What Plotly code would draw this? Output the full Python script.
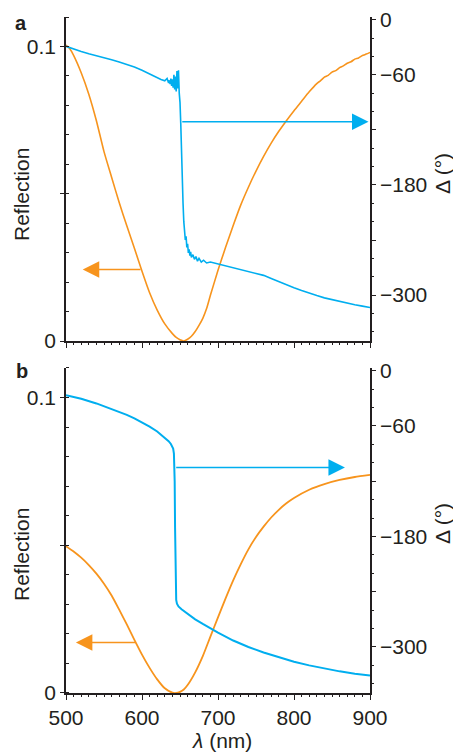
import plotly.graph_objects as go

# ---------------- data ----------------
# Panel a (measured)
wl_a_R = [500, 505, 510, 520, 530, 540, 550, 560, 570, 580, 590, 600, 610, 620, 630, 640, 645,
          650, 655, 660, 665, 670, 675, 680, 685, 690, 700, 710, 720, 730, 740, 750, 760, 770, 780, 790,
          800, 810, 820, 830, 835, 840, 845, 850, 855, 860, 865, 870, 875, 880, 885, 890, 895, 900]
R_a = [0.1005, 0.0992, 0.0970, 0.0911, 0.0838, 0.0748, 0.0643, 0.0556, 0.0470, 0.0391, 0.0315,
       0.0237, 0.0164, 0.0105, 0.0058, 0.0025, 0.0012, 0.0004, 0.0, 0.0006, 0.0016, 0.0032,
       0.0053, 0.0077, 0.0110, 0.0155, 0.0240, 0.0318, 0.0392, 0.0462, 0.0522, 0.0577, 0.0627,
       0.0672, 0.0712, 0.0748, 0.0782, 0.0814, 0.0846, 0.0874, 0.0884, 0.0896, 0.0902, 0.0913,
       0.0918, 0.0928, 0.0934, 0.0943, 0.0948, 0.0957, 0.0961, 0.0969, 0.0974, 0.098]

wl_a_D = [500, 510, 520, 530, 540, 550, 560, 570, 580, 590, 600, 610, 620, 625, 630, 633,
          635, 636, 637, 638, 639, 640, 641, 642, 643, 644, 645, 646, 647, 648, 649, 650, 651,
          652, 653, 654, 655, 656, 657, 658, 659, 660, 661, 662, 663, 664, 665, 667, 669,
          671, 673, 675, 678, 681, 685, 690, 700, 710, 720, 730, 740, 750, 760, 770, 780,
          790, 800, 810, 820, 830, 840, 850, 860, 870, 880, 890, 900]
D_a = [-29, -32, -34.5, -37, -39, -41, -43.5, -46, -48.5, -51.5, -55, -59, -63.5, -65, -66.5, -64,
       -69, -66, -70, -64, -72, -65, -74, -60, -76, -62, -78, -56, -75, -55, -80, -90, -113,
       -150, -178, -200, -220, -233, -240, -236, -248, -244, -254, -250, -257, -253, -259, -256, -261,
       -258, -263, -260, -264, -262, -265, -264, -266, -268, -270, -272, -274, -276, -278.5, -282, -285.5,
       -289, -292, -295, -298, -300.5, -303, -305, -307, -309, -310.5, -312, -313.5]

# Panel b (simulated)
wl_b_R = [500, 510, 520, 530, 540, 550, 560, 570, 580, 590, 600, 610, 620, 630, 640, 645,
          650, 655, 660, 670, 680, 690, 700, 710, 720, 730, 740, 750, 760, 770, 780, 790, 800,
          820, 840, 860, 880, 900]
R_b = [0.0497, 0.0479, 0.0458, 0.0433, 0.0404, 0.0370, 0.0330, 0.0282, 0.0232, 0.0180, 0.0130,
       0.0085, 0.0046, 0.0016, 0.0001, 0.0, 0.0004, 0.0012, 0.0027, 0.0070, 0.0125, 0.0191,
       0.0256, 0.0320, 0.0381, 0.0436, 0.0486, 0.0528, 0.0563, 0.0594, 0.0620, 0.0642, 0.0660,
       0.0688, 0.0707, 0.0721, 0.0731, 0.0738]

wl_b_D = [500, 520, 540, 560, 580, 590, 600, 610, 620, 630, 635, 638, 640, 641, 642, 642.5,
          643, 643.5, 644, 644.5, 645, 646, 648, 652, 660, 670, 680, 690, 700, 720, 740, 760,
          780, 800, 820, 840, 860, 880, 900]
D_b = [-26.5, -30.5, -35.5, -41.5, -48, -51.8, -56, -60.7, -66, -72.5, -76.5, -79.5, -82, -84.5, -90, -100,
       -120, -170, -215, -240, -249, -253, -256, -259, -264, -270, -275, -280, -284.5, -293, -300, -306,
       -311, -316, -320, -323.5, -326.5, -329, -331]

# arrows: [tail_x, tip_x, y]
arrow_a_D = [651, 898, -111]
arrow_a_R = [600, 522, 0.0243]
arrow_b_D = [643, 867, -105]
arrow_b_R = [593, 513, 0.0171]

x_ticks = [500, 600, 700, 800, 900]
R_ticks = [0, 0.05, 0.1]
R_ticktext = ["0", "", "0.1"]
D_ticks = [0, -60, -120, -180, -240, -300]
D_ticktext = ["0", "\u221260", "", "\u2212180", "", "\u2212300"]

# ---------------- style ----------------
BLUE = "#00aeef"
ORANGE = "#f7941d"
INK = "#231f20"
FONT = "Liberation Sans, Arial, sans-serif"

fig = go.Figure()
fig.add_trace(go.Scatter(x=wl_a_R, y=R_a, mode="lines", line=dict(color=ORANGE, width=1.6, shape="spline", smoothing=0.6),
                         xaxis="x", yaxis="y", showlegend=False))
fig.add_trace(go.Scatter(x=wl_a_D, y=D_a, mode="lines", line=dict(color=BLUE, width=1.6),
                         xaxis="x", yaxis="y2", showlegend=False))
fig.add_trace(go.Scatter(x=wl_b_R, y=R_b, mode="lines", line=dict(color=ORANGE, width=1.8, shape="spline", smoothing=0.6),
                         xaxis="x2", yaxis="y3", showlegend=False))
fig.add_trace(go.Scatter(x=wl_b_D, y=D_b, mode="lines", line=dict(color=BLUE, width=2),
                         xaxis="x2", yaxis="y4", showlegend=False))

tickfont = dict(family=FONT, size=21, color=INK)

def xax(show_labels, anchor):
    return dict(domain=[0, 1], range=[500, 900], anchor=anchor, tickvals=x_ticks,
                showticklabels=show_labels, ticks="outside", ticklen=5, tickwidth=1.3,
                tickcolor=INK, showline=True, linecolor=INK, linewidth=1.5,
                showgrid=False, zeroline=False, tickfont=tickfont,
                minor=dict(tickmode="linear", tick0=500, dtick=10, ticks="outside",
                           ticklen=2.5, tickwidth=1, tickcolor=INK))

def ylax(domain, anchor):
    return dict(domain=domain, range=[0, 0.11], anchor=anchor, tickvals=R_ticks,
                ticktext=R_ticktext, ticks="outside", ticklen=4, tickwidth=1.3, tickcolor=INK,
                showline=True, linecolor=INK, linewidth=1.5, showgrid=False, zeroline=False,
                tickfont=tickfont,
                minor=dict(tickmode="linear", tick0=0, dtick=0.01, ticks="inside",
                           ticklen=3, tickwidth=1, tickcolor=INK))

def yrax(overlay, anchor):
    return dict(overlaying=overlay, side="right", range=[-350, 3], anchor=anchor,
                tickvals=D_ticks, ticktext=D_ticktext, ticks="outside", ticklen=4,
                tickwidth=1.3, tickcolor=INK, showline=True, linecolor=INK, linewidth=1.5,
                showgrid=False, zeroline=False, tickfont=tickfont,
                minor=dict(tickmode="linear", tick0=0, dtick=20, ticks="outside",
                           ticklen=2.5, tickwidth=1, tickcolor=INK))

fig.update_layout(
    width=453, height=752,
    margin=dict(l=66, r=83, t=17, b=59, autoexpand=False),
    paper_bgcolor="white", plot_bgcolor="white",
    xaxis=xax(False, "y"),
    yaxis=ylax([0.5207, 1], "x"),
    yaxis2=yrax("y", "x"),
    xaxis2=xax(True, "y3"),
    yaxis3=ylax([0, 0.4808], "x2"),
    yaxis4=yrax("y3", "x2"),
)

anns = []
def arrow(spec, xref, yref, color):
    tail, tip, y = spec
    return dict(x=tip, y=y, ax=tail, ay=y, xref=xref, yref=yref, axref=xref, ayref=yref,
                text="", showarrow=True, arrowhead=2, arrowsize=2.2, arrowwidth=1.5,
                arrowcolor=color, standoff=0, startstandoff=0)

anns.append(arrow(arrow_a_D, "x", "y2", BLUE))
anns.append(arrow(arrow_a_R, "x", "y", ORANGE))
anns.append(arrow(arrow_b_D, "x2", "y4", BLUE))
anns.append(arrow(arrow_b_R, "x2", "y3", ORANGE))

# convert page pixel coords to layout paper fractions (plot area: x 66..370, y 17..693)
def paper(px, py):
    return (px - 66) / 304, (693 - py) / 676

for text, px, py, size, angle, bold in [
    ("a", 21, 23, 20, 0, True),
    ("b", 22, 371, 20, 0, True),
    ("Reflection", 21, 195, 21, -90, False),
    ("Reflection", 21, 555, 21, -90, False),
    ("\u0394 (\u00b0)", 442, 174, 21, -90, False),
    ("\u0394 (\u00b0)", 442, 524, 21, -90, False),
    ("<i>\u03bb</i> (nm)", 222, 740, 21, 0, False),
]:
    fx, fy = paper(px, py)
    t = f"<b>{text}</b>" if bold else text
    anns.append(dict(text=t, x=fx, y=fy, xref="paper", yref="paper", showarrow=False,
                     textangle=angle, xanchor="center", yanchor="middle",
                     font=dict(family=FONT, size=size, color=INK)))

fig.update_layout(annotations=anns)
fig.write_html("out.html", config={"displayModeBar": False},
               post_script="document.body.style.margin='0px';document.body.style.overflow='hidden';")
